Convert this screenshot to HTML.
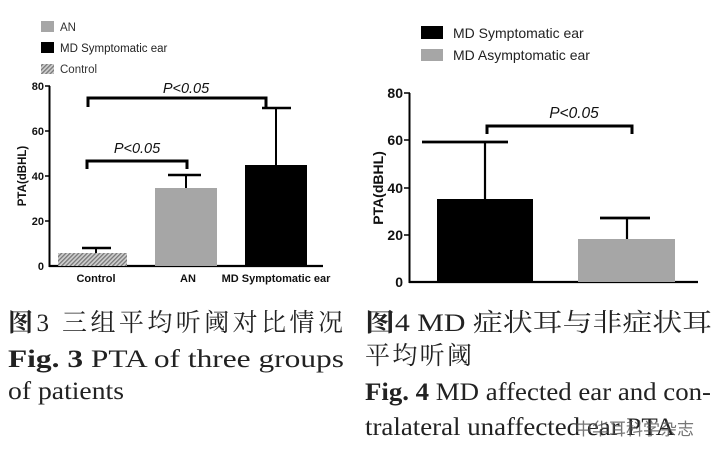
<!DOCTYPE html>
<html><head><meta charset="utf-8"><style>
html,body{margin:0;padding:0;background:#fff;}
svg{display:block;}
.a{font-family:"Liberation Sans",Arial,sans-serif;}
.s{font-family:"Liberation Serif","Noto Serif CJK SC",serif;fill:#222;}
</style></head><body>
<svg width="719" height="460" viewBox="0 0 719 460" xmlns="http://www.w3.org/2000/svg">
<defs>
<pattern id="h" width="3" height="3" patternUnits="userSpaceOnUse" patternTransform="rotate(45)">
<rect width="3" height="3" fill="#cfcfcf"/><rect width="1.3" height="3" fill="#777"/>
</pattern>
</defs>
<!-- LEFT CHART -->
<g class="a">
<rect x="41" y="21" width="13" height="11" fill="#a6a6a6"/>
<text x="60" y="31" font-size="11.5" fill="#333">AN</text>
<rect x="41" y="42" width="13" height="11" fill="#000"/>
<text x="60" y="52" font-size="11.5" fill="#222">MD Symptomatic ear</text>
<rect x="41" y="64" width="13" height="10" fill="url(#h)"/>
<text x="60" y="73" font-size="11.5" fill="#333">Control</text>

<line x1="49.5" y1="86" x2="49.5" y2="267" stroke="#000" stroke-width="2"/>
<line x1="49" y1="266" x2="323" y2="266" stroke="#000" stroke-width="2.2"/>
<g stroke="#000" stroke-width="1.5">
<line x1="45" y1="86" x2="50" y2="86"/><line x1="45" y1="131" x2="50" y2="131"/>
<line x1="45" y1="176" x2="50" y2="176"/><line x1="45" y1="221" x2="50" y2="221"/>
</g>
<g font-size="11" font-weight="bold" text-anchor="end" fill="#111">
<text x="44" y="90">80</text><text x="44" y="135">60</text><text x="44" y="180">40</text>
<text x="44" y="225">20</text><text x="44" y="270">0</text>
</g>
<text transform="translate(26,176) rotate(-90)" font-size="11.5" font-weight="bold" text-anchor="middle" fill="#111">PTA(dBHL)</text>

<line x1="96" y1="253" x2="96" y2="248" stroke="#000" stroke-width="2"/>
<line x1="82" y1="248" x2="111" y2="248" stroke="#000" stroke-width="2.5"/>
<rect x="58" y="253" width="69" height="13" fill="url(#h)"/>
<line x1="186" y1="188" x2="186" y2="175" stroke="#000" stroke-width="2"/>
<line x1="168" y1="175" x2="201" y2="175" stroke="#000" stroke-width="2.5"/>
<rect x="155" y="188" width="62" height="78" fill="#a6a6a6"/>
<line x1="276" y1="165" x2="276" y2="108" stroke="#000" stroke-width="2"/>
<line x1="262" y1="108" x2="291" y2="108" stroke="#000" stroke-width="2.5"/>
<rect x="245" y="165" width="62" height="101" fill="#000"/>

<path d="M88 107 V98 H266 V107" fill="none" stroke="#000" stroke-width="3"/>
<path d="M87 169 V161 H187 V169" fill="none" stroke="#000" stroke-width="3"/>
<text x="186" y="93" font-size="14.5" font-style="italic" text-anchor="middle" fill="#111">P&lt;0.05</text>
<text x="137" y="153" font-size="14.5" font-style="italic" text-anchor="middle" fill="#111">P&lt;0.05</text>

<g font-size="11" font-weight="bold" text-anchor="middle" fill="#111">
<text x="96" y="282">Control</text><text x="188" y="282">AN</text><text x="276" y="282">MD Symptomatic ear</text>
</g>
</g>

<!-- RIGHT CHART -->
<g class="a">
<rect x="421" y="26" width="22" height="13" fill="#000"/>
<text x="453" y="38" font-size="14" fill="#222">MD Symptomatic ear</text>
<rect x="421" y="49" width="22" height="12" fill="#a6a6a6"/>
<text x="453" y="60" font-size="14" fill="#222">MD Asymptomatic ear</text>

<line x1="409.5" y1="93" x2="409.5" y2="283" stroke="#000" stroke-width="2"/>
<line x1="409" y1="282" x2="698" y2="282" stroke="#000" stroke-width="2.2"/>
<g stroke="#000" stroke-width="1.5">
<line x1="404" y1="93" x2="410" y2="93"/><line x1="404" y1="140" x2="410" y2="140"/>
<line x1="404" y1="188" x2="410" y2="188"/><line x1="404" y1="235" x2="410" y2="235"/>
</g>
<g font-size="14" font-weight="bold" text-anchor="end" fill="#111">
<text x="403" y="98">80</text><text x="403" y="145">60</text><text x="403" y="193">40</text>
<text x="403" y="240">20</text><text x="403" y="287">0</text>
</g>
<text transform="translate(383,188) rotate(-90)" font-size="14" font-weight="bold" text-anchor="middle" fill="#111">PTA(dBHL)</text>

<line x1="485" y1="199" x2="485" y2="142" stroke="#000" stroke-width="2.2"/>
<line x1="422" y1="142" x2="508" y2="142" stroke="#000" stroke-width="2.8"/>
<rect x="437" y="199" width="96" height="83" fill="#000"/>
<line x1="627" y1="239" x2="627" y2="218" stroke="#000" stroke-width="2.2"/>
<line x1="600" y1="218" x2="650" y2="218" stroke="#000" stroke-width="2.8"/>
<rect x="578" y="239" width="97" height="43" fill="#a6a6a6"/>

<path d="M487 134 V126 H632 V134" fill="none" stroke="#000" stroke-width="3"/>
<text x="574" y="118" font-size="15.5" font-style="italic" text-anchor="middle" fill="#111">P&lt;0.05</text>
</g>

<!-- CAPTIONS -->
<g class="s" font-size="25">
<text x="8" y="331" textLength="335" lengthAdjust="spacing"><tspan font-weight="bold">图</tspan>3 三组平均听阈对比情况</text>
<text x="8" y="367" textLength="336" lengthAdjust="spacingAndGlyphs"><tspan font-weight="bold">Fig. 3</tspan>  PTA  of  three  groups</text>
<text x="8" y="399" textLength="116" lengthAdjust="spacingAndGlyphs">of patients</text>
<text x="365" y="331" textLength="347" lengthAdjust="spacingAndGlyphs"><tspan font-weight="bold">图</tspan>4  MD 症状耳与非症状耳</text>
<text x="365" y="364" textLength="107" lengthAdjust="spacing">平均听阈</text>
<text x="365" y="400" textLength="346" lengthAdjust="spacingAndGlyphs"><tspan font-weight="bold">Fig. 4</tspan> MD affected ear and con-</text>
<text x="365" y="435" textLength="310" lengthAdjust="spacingAndGlyphs">tralateral unaffected ear PTA</text>
</g>
<text x="575" y="435" font-size="17" font-family="Liberation Sans,Noto Sans CJK SC,sans-serif" fill="#555" opacity="0.8">中华耳科学杂志</text>
</svg>
</body></html>
